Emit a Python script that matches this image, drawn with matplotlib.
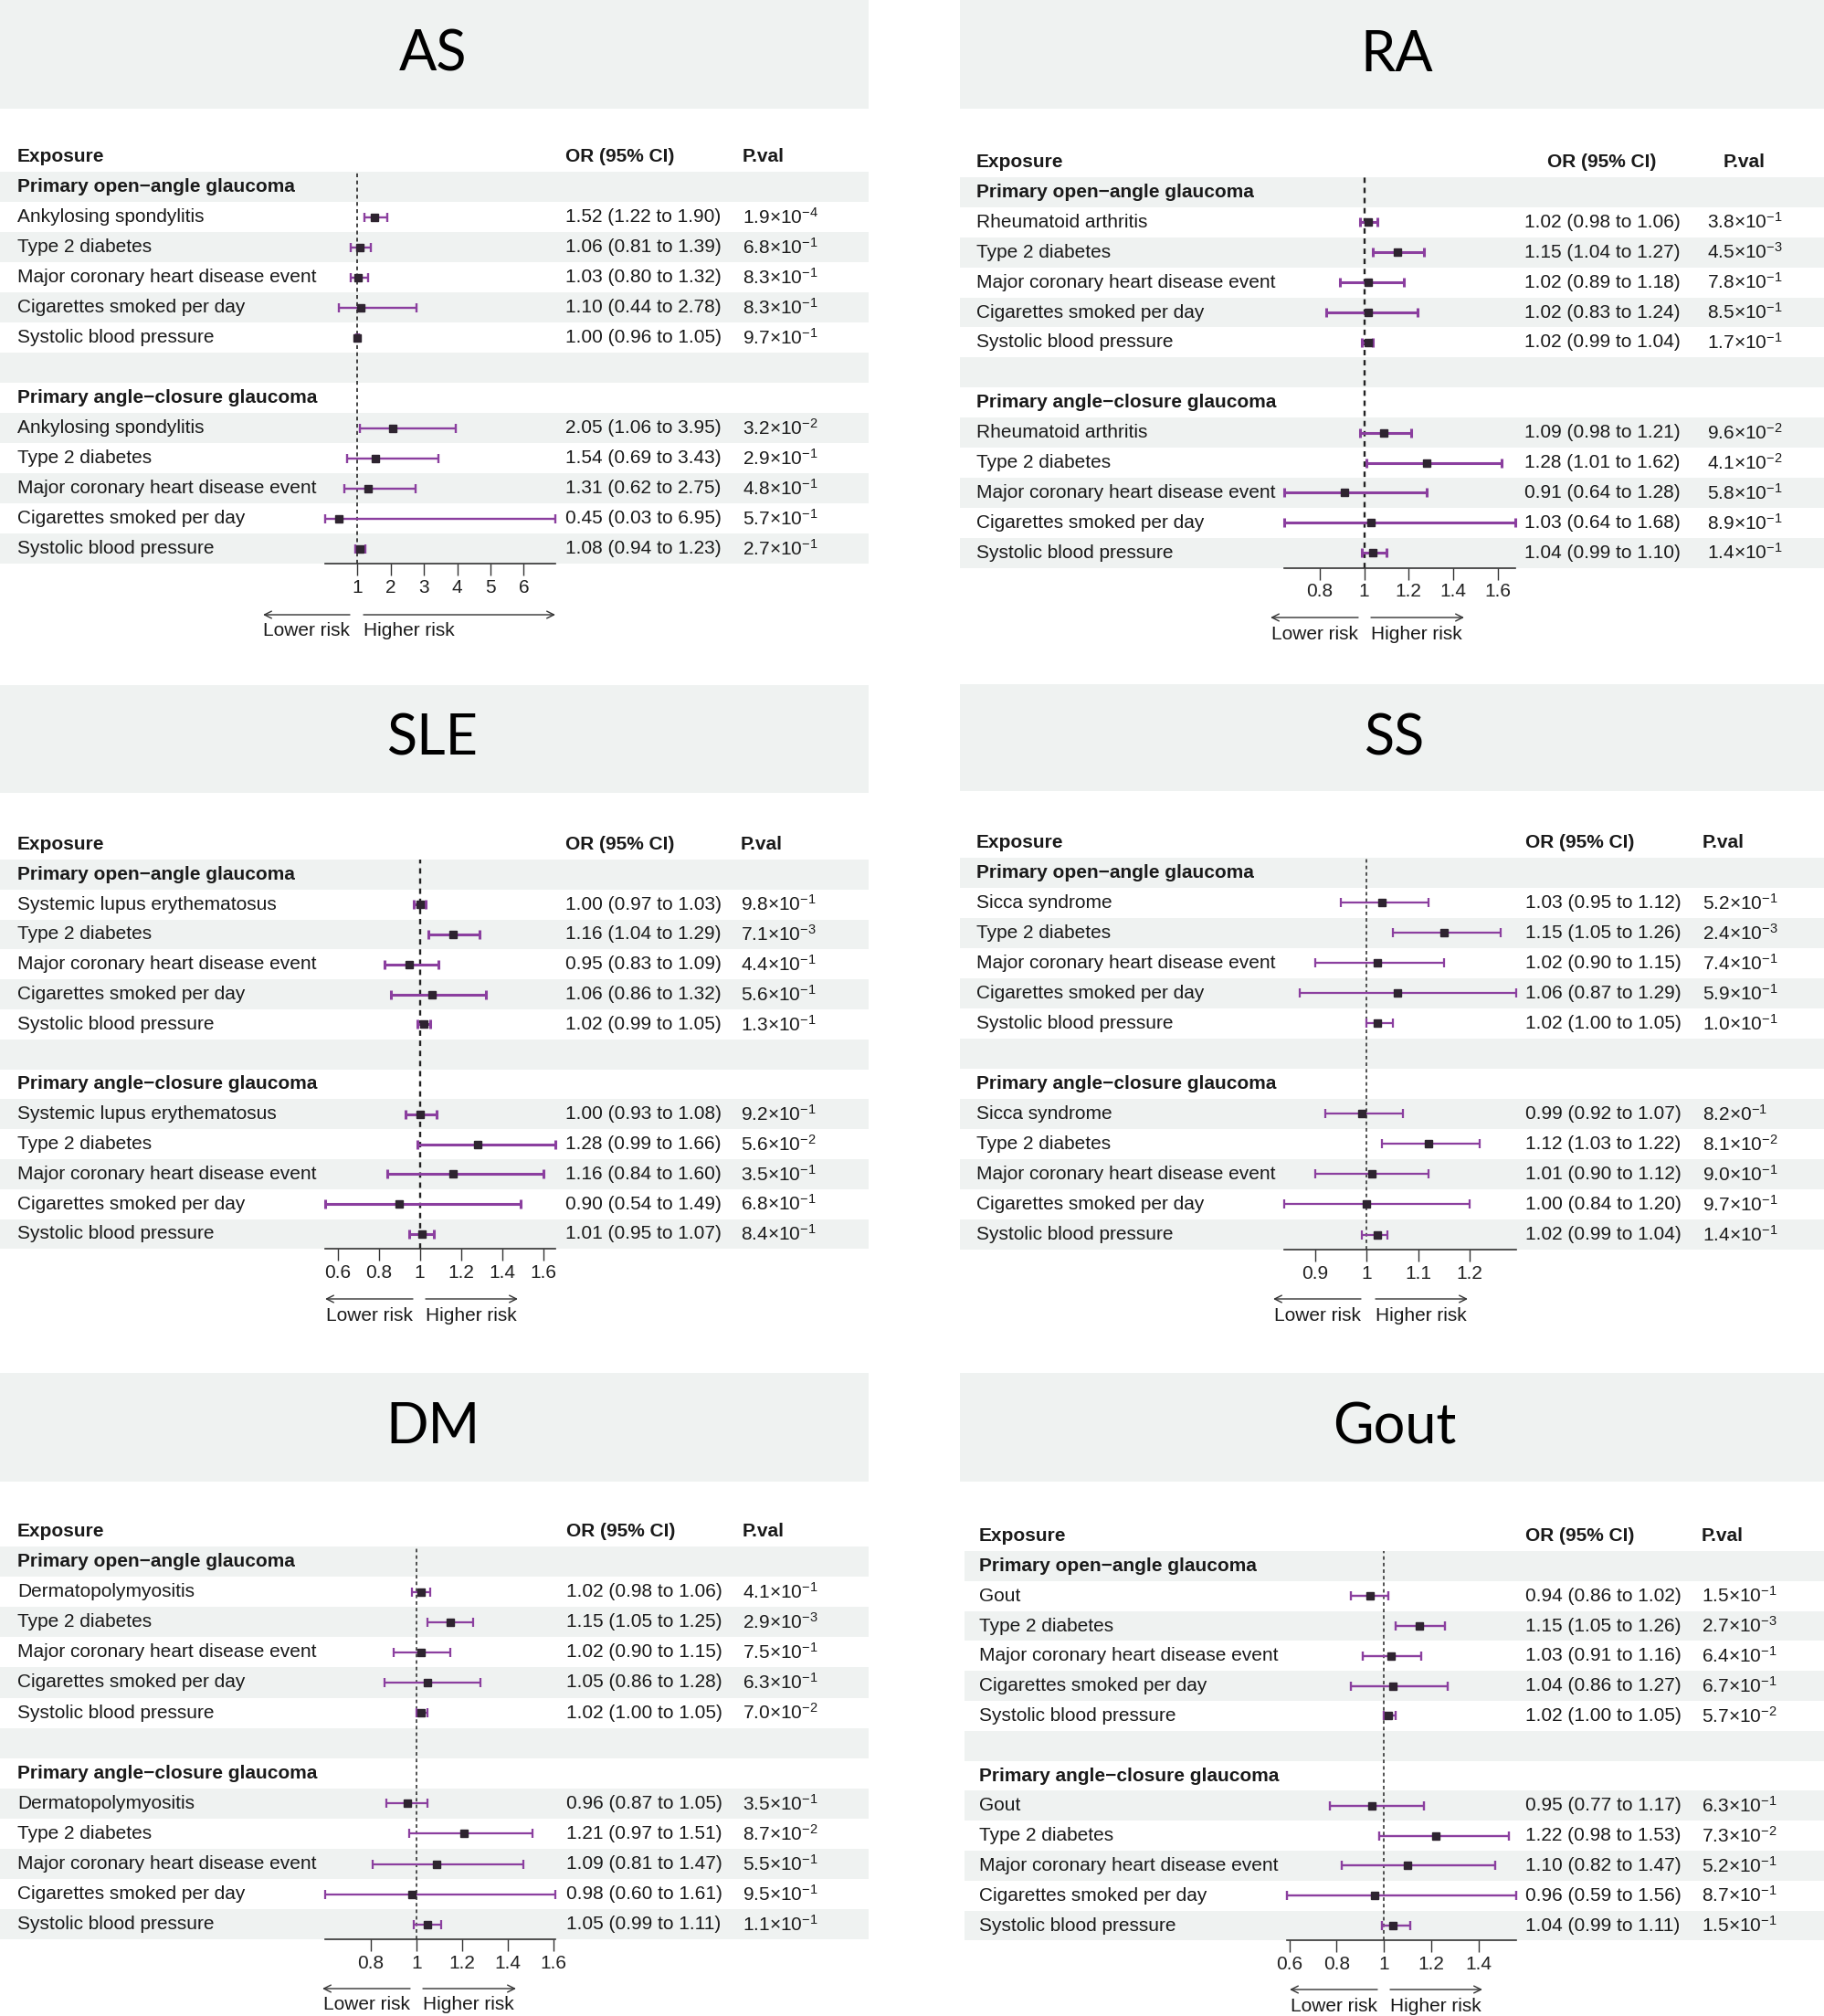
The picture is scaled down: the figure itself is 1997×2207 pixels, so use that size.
import matplotlib
matplotlib.use('Agg')
import matplotlib.pyplot as plt
from matplotlib.patches import Rectangle

plt.rcParams['font.family'] = ['Liberation Sans', 'DejaVu Sans']
plt.rcParams['mathtext.fontset'] = 'custom'
plt.rcParams['mathtext.rm'] = 'Liberation Sans'
plt.rcParams['mathtext.it'] = 'Liberation Sans:italic'
plt.rcParams['mathtext.bf'] = 'Liberation Sans:bold'

# ---------------- data ----------------
GROUPS = ["Primary open\u2212angle glaucoma", "Primary angle\u2212closure glaucoma"]
COVARIATES = ["Type 2 diabetes", "Major coronary heart disease event",
              "Cigarettes smoked per day", "Systolic blood pressure"]

AS_exposure = "Ankylosing spondylitis"
AS_or = [1.52, 1.06, 1.03, 1.10, 1.00, 2.05, 1.54, 1.31, 0.45, 1.08]
AS_lo = [1.22, 0.81, 0.80, 0.44, 0.96, 1.06, 0.69, 0.62, 0.03, 0.94]
AS_hi = [1.90, 1.39, 1.32, 2.78, 1.05, 3.95, 3.43, 2.75, 6.95, 1.23]
AS_p = ["1.9×10^-4", "6.8×10^-1", "8.3×10^-1", "8.3×10^-1", "9.7×10^-1",
        "3.2×10^-2", "2.9×10^-1", "4.8×10^-1", "5.7×10^-1", "2.7×10^-1"]
AS_ticks = [1, 2, 3, 4, 5, 6]

RA_exposure = "Rheumatoid arthritis"
RA_or = [1.02, 1.15, 1.02, 1.02, 1.02, 1.09, 1.28, 0.91, 1.03, 1.04]
RA_lo = [0.98, 1.04, 0.89, 0.83, 0.99, 0.98, 1.01, 0.64, 0.64, 0.99]
RA_hi = [1.06, 1.27, 1.18, 1.24, 1.04, 1.21, 1.62, 1.28, 1.68, 1.10]
RA_p = ["3.8×10^-1", "4.5×10^-3", "7.8×10^-1", "8.5×10^-1", "1.7×10^-1",
        "9.6×10^-2", "4.1×10^-2", "5.8×10^-1", "8.9×10^-1", "1.4×10^-1"]
RA_ticks = [0.8, 1, 1.2, 1.4, 1.6]

SLE_exposure = "Systemic lupus erythematosus"
SLE_or = [1.00, 1.16, 0.95, 1.06, 1.02, 1.00, 1.28, 1.16, 0.90, 1.01]
SLE_lo = [0.97, 1.04, 0.83, 0.86, 0.99, 0.93, 0.99, 0.84, 0.54, 0.95]
SLE_hi = [1.03, 1.29, 1.09, 1.32, 1.05, 1.08, 1.66, 1.60, 1.49, 1.07]
SLE_p = ["9.8×10^-1", "7.1×10^-3", "4.4×10^-1", "5.6×10^-1", "1.3×10^-1",
         "9.2×10^-1", "5.6×10^-2", "3.5×10^-1", "6.8×10^-1", "8.4×10^-1"]
SLE_ticks = [0.6, 0.8, 1, 1.2, 1.4, 1.6]

SS_exposure = "Sicca syndrome"
SS_or = [1.03, 1.15, 1.02, 1.06, 1.02, 0.99, 1.12, 1.01, 1.00, 1.02]
SS_lo = [0.95, 1.05, 0.90, 0.87, 1.00, 0.92, 1.03, 0.90, 0.84, 0.99]
SS_hi = [1.12, 1.26, 1.15, 1.29, 1.05, 1.07, 1.22, 1.12, 1.20, 1.04]
SS_p = ["5.2×10^-1", "2.4×10^-3", "7.4×10^-1", "5.9×10^-1", "1.0×10^-1",
        "8.2×0^-1", "8.1×10^-2", "9.0×10^-1", "9.7×10^-1", "1.4×10^-1"]
SS_ticks = [0.9, 1, 1.1, 1.2]

DM_exposure = "Dermatopolymyositis"
DM_or = [1.02, 1.15, 1.02, 1.05, 1.02, 0.96, 1.21, 1.09, 0.98, 1.05]
DM_lo = [0.98, 1.05, 0.90, 0.86, 1.00, 0.87, 0.97, 0.81, 0.60, 0.99]
DM_hi = [1.06, 1.25, 1.15, 1.28, 1.05, 1.05, 1.51, 1.47, 1.61, 1.11]
DM_p = ["4.1×10^-1", "2.9×10^-3", "7.5×10^-1", "6.3×10^-1", "7.0×10^-2",
        "3.5×10^-1", "8.7×10^-2", "5.5×10^-1", "9.5×10^-1", "1.1×10^-1"]
DM_ticks = [0.8, 1, 1.2, 1.4, 1.6]

GOUT_exposure = "Gout"
GOUT_or = [0.94, 1.15, 1.03, 1.04, 1.02, 0.95, 1.22, 1.10, 0.96, 1.04]
GOUT_lo = [0.86, 1.05, 0.91, 0.86, 1.00, 0.77, 0.98, 0.82, 0.59, 0.99]
GOUT_hi = [1.02, 1.26, 1.16, 1.27, 1.05, 1.17, 1.53, 1.47, 1.56, 1.11]
GOUT_p = ["1.5×10^-1", "2.7×10^-3", "6.4×10^-1", "6.7×10^-1", "5.7×10^-2",
          "6.3×10^-1", "7.3×10^-2", "5.2×10^-1", "8.7×10^-1", "1.5×10^-1"]
GOUT_ticks = [0.6, 0.8, 1, 1.2, 1.4]

TITLES = ["AS", "RA", "SLE", "SS", "DM", "Gout"]

# ---------------- layout (pixels) ----------------
LAYOUT = {
    "AS": dict(box=(0, 951, 0, 119), tx=474, ty=60, top=188, rh=33.0, sx=(0, 951),
               cexp=19, cor=619, cp=813, align='left', fx=(356, 608),
               ay=673, larr=(383, 288), rarr=(398, 608), ly=691, lw=1.7, dlw=1.2),
    "RA": dict(box=(1051, 1997, 0, 119), tx=1529, ty=60, top=194, rh=32.9, sx=(1051, 1997),
               cexp=1069, cor=1754, cp=1910, align='center', fx=(1406, 1659),
               ay=676, larr=(1487, 1391), rarr=(1501, 1603), ly=694, lw=2.2, dlw=1.7),
    "SLE": dict(box=(0, 951, 750, 868), tx=474, ty=809, top=941, rh=32.8, sx=(0, 951),
                cexp=19, cor=619, cp=811, align='left', fx=(356, 608),
                ay=1422, larr=(452, 356), rarr=(466, 567), ly=1440, lw=2.2, dlw=1.7),
    "SS": dict(box=(1051, 1997, 749, 866), tx=1527, ty=809, top=939, rh=33.0, sx=(1051, 1997),
               cexp=1069, cor=1670, cp=1864, align='left', fx=(1406, 1660),
               ay=1422, larr=(1490, 1394), rarr=(1506, 1607), ly=1441, lw=1.6, dlw=1.1),
    "DM": dict(box=(0, 951, 1503, 1622), tx=474, ty=1563, top=1693, rh=33.1, sx=(0, 951),
               cexp=19, cor=620, cp=813, align='left', fx=(356, 608),
               ay=2177, larr=(449, 353), rarr=(463, 565), ly=2195, lw=1.6, dlw=1.1),
    "Gout": dict(box=(1051, 1997, 1503, 1622), tx=1527, ty=1563, top=1698, rh=32.8, sx=(1056, 1997),
                 cexp=1072, cor=1670, cp=1863, align='left', fx=(1409, 1660),
                 ay=2178, larr=(1508, 1412), rarr=(1522, 1623), ly=2196, lw=1.7, dlw=1.1),
}

DATA = {
    "AS": (AS_exposure, AS_or, AS_lo, AS_hi, AS_p, AS_ticks),
    "RA": (RA_exposure, RA_or, RA_lo, RA_hi, RA_p, RA_ticks),
    "SLE": (SLE_exposure, SLE_or, SLE_lo, SLE_hi, SLE_p, SLE_ticks),
    "SS": (SS_exposure, SS_or, SS_lo, SS_hi, SS_p, SS_ticks),
    "DM": (DM_exposure, DM_or, DM_lo, DM_hi, DM_p, DM_ticks),
    "Gout": (GOUT_exposure, GOUT_or, GOUT_lo, GOUT_hi, GOUT_p, GOUT_ticks),
}

STRIPE = '#eff2f1'
PURPLE = '#8b3f9f'
BOXC = '#2e2430'
TXT = '#1a1a1a'
FS = 15
W, H = 1997, 2207

fig = plt.figure(figsize=(W / 100, H / 100), dpi=100)
bg = fig.add_axes([0, 0, 1, 1])
bg.set_xlim(0, W)
bg.set_ylim(H, 0)
bg.axis('off')


def ptxt(s):
    base, ex = s.split('^')
    head, ten = base.split('×')
    return f"{head}×$\\mathregular{{{ten}^{{{ex}}}}}$"


ITEM_ROWS = [1, 2, 3, 4, 5, 8, 9, 10, 11, 12]
GROUP_ROWS = [0, 7]
NROWS = 13

for name in TITLES:
    L = LAYOUT[name]
    exposure, ors, los, his, ps, ticks = DATA[name]
    labels = [exposure] + COVARIATES + [exposure] + COVARIATES

    x0, x1, y0, y1 = L['box']
    bg.add_patch(Rectangle((x0, y0), x1 - x0, y1 - y0, color=STRIPE, lw=0, zorder=0))
    bg.text(L['tx'], L['ty'], name, family='Lato', fontsize=44, ha='center',
            va='center', color='black')

    top, rh = L['top'], L['rh']

    def ry(r):
        return top + (r + 0.5) * rh

    sx0, sx1 = L['sx']
    for r in range(0, NROWS, 2):
        bg.add_patch(Rectangle((sx0, top + r * rh), sx1 - sx0, rh, color=STRIPE,
                               lw=0, zorder=0))

    # header
    hy = ry(-1)
    bg.text(L['cexp'], hy, "Exposure", fontsize=FS, weight='bold', ha='left',
            va='center', color=TXT)
    bg.text(L['cor'], hy, "OR (95% CI)", fontsize=FS, weight='bold',
            ha=L['align'], va='center', color=TXT)
    bg.text(L['cp'], hy, "P.val", fontsize=FS, weight='bold',
            ha=L['align'], va='center', color=TXT)

    for g, r in zip(GROUPS, GROUP_ROWS):
        bg.text(L['cexp'], ry(r), g, fontsize=FS, weight='bold', ha='left',
                va='center', color=TXT)

    for lab, o, lo, hi, p, r in zip(labels, ors, los, his, ps, ITEM_ROWS):
        bg.text(L['cexp'], ry(r), lab, fontsize=FS, ha='left', va='center', color=TXT)
        bg.text(L['cor'], ry(r), f"{o:.2f} ({lo:.2f} to {hi:.2f})", fontsize=FS,
                ha=L['align'], va='center', color=TXT)
        bg.text(L['cp'], ry(r), ptxt(p), fontsize=FS, ha=L['align'],
                va='center', color=TXT)

    # forest axes
    fx0, fx1 = L['fx']
    ytop, ybot = top, top + NROWS * rh
    ax = fig.add_axes([fx0 / W, 1 - ybot / H, (fx1 - fx0) / W, (ybot - ytop) / H])
    ax.patch.set_alpha(0)
    ax.set_xlim(min(los), max(his))
    ax.set_ylim(NROWS, 0)
    for s in ['top', 'right', 'left']:
        ax.spines[s].set_visible(False)
    ax.spines['bottom'].set_color('#333333')
    ax.spines['bottom'].set_linewidth(1.2)
    ax.set_yticks([])
    ax.set_xticks(ticks)
    ax.set_xticklabels([f"{t:g}" for t in ticks])
    ax.tick_params(axis='x', direction='out', length=9, width=1.0,
                   color='#333333', labelsize=FS, labelcolor='#222222', pad=3)
    ax.axvline(1, color='#222222', lw=L['dlw'], ls=(0, (2.5, 2.2)), zorder=1)
    ys = [r + 0.5 for r in ITEM_ROWS]
    xerr = [[o - lo for o, lo in zip(ors, los)], [hi - o for o, hi in zip(ors, his)]]
    ax.errorbar(ors, ys, xerr=xerr, fmt='none', ecolor=PURPLE, elinewidth=L['lw'],
                capsize=3.4, capthick=L['lw'], zorder=2, clip_on=False)
    ax.plot(ors, ys, 's', color=BOXC, ms=6, zorder=3, clip_on=False)

    # arrows
    ay = L['ay']
    for (a, b) in (L['larr'], L['rarr']):
        bg.annotate('', xy=(b, ay), xytext=(a, ay),
                    arrowprops=dict(arrowstyle='->', lw=1.0, color='#333333',
                                    shrinkA=0, shrinkB=0, mutation_scale=14))
    bg.text(L['larr'][0], L['ly'], "Lower risk", fontsize=FS, ha='right',
            va='center', color=TXT)
    bg.text(L['rarr'][0], L['ly'], "Higher risk", fontsize=FS, ha='left',
            va='center', color=TXT)

fig.savefig('out.png', dpi=100)
